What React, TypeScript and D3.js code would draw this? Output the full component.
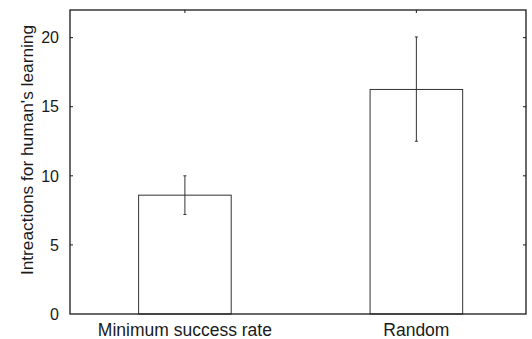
import React, { useRef, useEffect } from 'react';
import * as d3 from 'd3';

const categories = ['Minimum success rate', 'Random'];
const means = [8.6, 16.25];
const errLow = [7.2, 12.5];
const errHigh = [10.0, 20.05];
const yTicks = [0, 5, 10, 15, 20];

const App: React.FC = () => {
    const svgRef = useRef<SVGSVGElement | null>(null);
    const width = 532;
    const height = 339;
    const margin = { top: 10, right: 6, bottom: 25, left: 70 };

    useEffect(() => {
        if (!svgRef.current) return;
        const svg = d3.select(svgRef.current);
        svg.selectAll('*').remove();

        const font = '"Liberation Sans", Arial, Helvetica, sans-serif';
        const ink = '#1a1a1a';

        const x = d3.scaleBand<string>()
            .domain(categories)
            .range([margin.left, width - margin.right])
            .paddingInner(0.6)
            .paddingOuter(0.285)
            .align(0.52);

        const y = d3.scaleLinear()
            .domain([0, 22])
            .range([height - margin.bottom, margin.top]);

        svg.append('rect')
            .attr('width', width)
            .attr('height', height)
            .attr('fill', 'white');

        // Bars
        svg.selectAll('rect.bar')
            .data(categories)
            .join('rect')
            .attr('class', 'bar')
            .attr('x', d => x(d)!)
            .attr('y', (_, i) => y(means[i]))
            .attr('width', x.bandwidth())
            .attr('height', (_, i) => y(0) - y(means[i]))
            .attr('fill', 'white')
            .attr('stroke', '#333')
            .attr('stroke-width', 1);

        // Error bars
        const cx = (d: string) => x(d)! + x.bandwidth() / 2;
        const err = svg.append('g').attr('stroke', '#333').attr('stroke-width', 1);
        err.selectAll('line.v')
            .data(categories)
            .join('line')
            .attr('class', 'v')
            .attr('x1', cx).attr('x2', cx)
            .attr('y1', (_, i) => y(errLow[i]))
            .attr('y2', (_, i) => y(errHigh[i]));
        [errLow, errHigh].forEach(vals => {
            err.selectAll(null)
                .data(categories)
                .join('line')
                .attr('x1', d => cx(d) - 1.5).attr('x2', d => cx(d) + 1.5)
                .attr('y1', (_, i) => y(vals[i]))
                .attr('y2', (_, i) => y(vals[i]));
        });

        // Frame
        svg.append('rect')
            .attr('x', margin.left)
            .attr('y', margin.top)
            .attr('width', width - margin.left - margin.right)
            .attr('height', height - margin.top - margin.bottom)
            .attr('fill', 'none')
            .attr('stroke', ink)
            .attr('stroke-width', 1.3);

        // Inward ticks on left/right, top at bar centers
        const ticks = svg.append('g').attr('stroke', ink).attr('stroke-width', 1);
        yTicks.filter(t => t > 0).forEach(t => {
            ticks.append('line').attr('x1', margin.left).attr('x2', margin.left + 3).attr('y1', y(t)).attr('y2', y(t));
            ticks.append('line').attr('x1', width - margin.right).attr('x2', width - margin.right - 3).attr('y1', y(t)).attr('y2', y(t));
        });
        categories.forEach(c => {
            ticks.append('line').attr('x1', cx(c)).attr('x2', cx(c)).attr('y1', margin.top).attr('y2', margin.top + 3);
        });

        // Y tick labels
        svg.append('g')
            .selectAll('text')
            .data(yTicks)
            .join('text')
            .attr('x', margin.left - 11)
            .attr('y', d => y(d))
            .attr('dy', '0.36em')
            .attr('text-anchor', 'end')
            .attr('font-family', font)
            .attr('font-size', 16)
            .attr('fill', ink)
            .text(d => d);

        // X labels
        svg.append('g')
            .selectAll('text')
            .data(categories)
            .join('text')
            .attr('x', cx)
            .attr('y', height - margin.bottom + 22)
            .attr('text-anchor', 'middle')
            .attr('font-family', font)
            .attr('font-size', 17.5)
            .attr('fill', ink)
            .text(d => d);

        // Y axis title
        svg.append('text')
            .attr('transform', `translate(27,${(margin.top + height - margin.bottom) / 2 - 12}) rotate(-90)`)
            .attr('text-anchor', 'middle')
            .attr('dy', '0.36em')
            .attr('font-family', font)
            .attr('font-size', 17.3)
            .attr('fill', ink)
            .text("Intreactions for human's learning");
    }, []);

    return <svg ref={svgRef} width={width} height={height} style={{ position: 'absolute', left: 0, top: 0 }}></svg>;
};

export default App;
